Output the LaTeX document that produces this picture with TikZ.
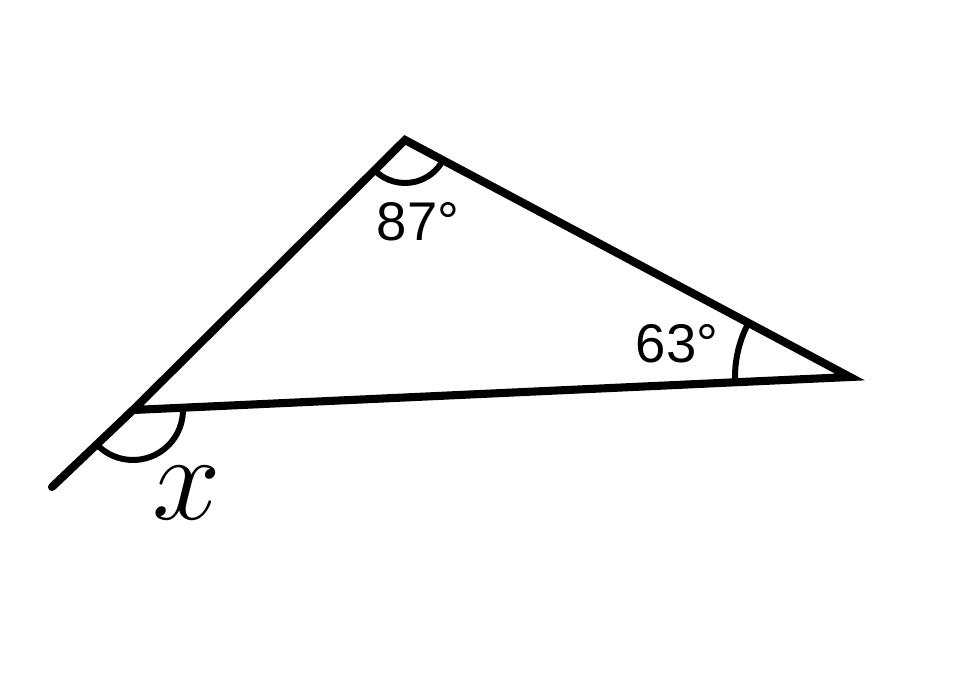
\RequirePackage{fix-cm}
\documentclass[tikz,border=0pt]{standalone}
\usepackage{fontspec}
\setmainfont{Liberation Sans}
\usetikzlibrary{angles}

\begin{document}
\begin{tikzpicture}[
  side/.style={line width=4.6pt},
  arcmark/.style={draw, line width=3.4pt},
  deg/.style={font=\fontsize{31}{33}\selectfont, inner sep=0pt},
  unknown/.style={font=\fontsize{70}{72}\selectfont, inner sep=0pt}]

  \useasboundingbox (0,0) rectangle (19.5,13.56);

  \coordinate (A) at (8.10,10.76);
  \coordinate (B) at (17.00,6.02);
  \coordinate (C) at (2.66,5.36);
  \coordinate (E) at (1.04,3.82);

  \draw [side] (A) -- (B) -- (C) -- cycle;
  \draw [side, line cap=round] (C) -- (E);

  \pic [arcmark, angle radius=0.86cm] {angle = C--A--B};
  \pic [arcmark, angle radius=2.3cm] {angle = A--B--C};
  \pic [arcmark, angle radius=1.0cm] {angle = E--C--B};

  \node (a87) [deg] at (8.36,9.12) {87°};
  \node (a63) [deg] at (13.54,6.68) {63°};
  \node (ax) [unknown] at (3.74,3.70) {$x$};
\end{tikzpicture}
\end{document}
